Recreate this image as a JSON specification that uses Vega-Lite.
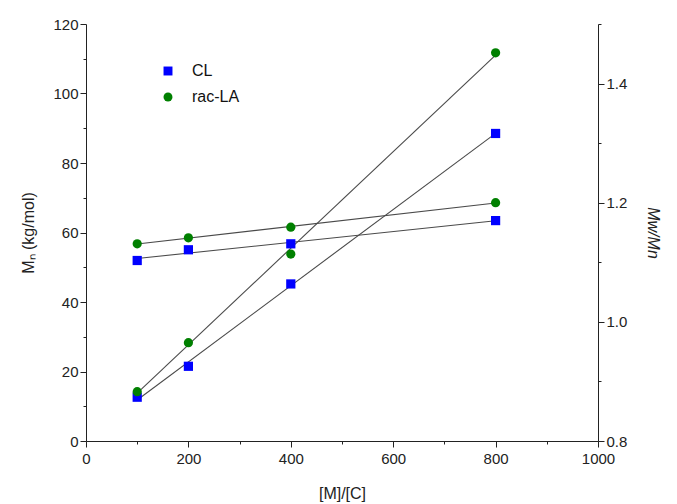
{
  "$schema": "https://vega.github.io/schema/vega-lite/v6.json",
  "autosize": "none",
  "width": 512,
  "height": 417,
  "padding": {"left": 86, "top": 24, "right": 79, "bottom": 63},
  "background": "white",
  "config": {
    "view": {"stroke": null},
    "font": "Liberation Sans",
    "axis": {
      "grid": false,
      "domainColor": "#222",
      "tickColor": "#222",
      "labelColor": "#222",
      "titleColor": "#222",
      "labelFont": "Liberation Sans",
      "titleFont": "Liberation Sans",
      "labelFontSize": 15,
      "titleFontSize": 16,
      "titleFontWeight": "normal"
    }
  },
  "data": {
    "values": [
      {"x": 100, "series": "CL", "Mn": 12.6, "PDI": 1.103},
      {"x": 200, "series": "CL", "Mn": 21.5, "PDI": 1.121},
      {"x": 400, "series": "CL", "Mn": 45.2, "PDI": 1.131},
      {"x": 800, "series": "CL", "Mn": 88.5, "PDI": 1.170},
      {"x": 100, "series": "rac-LA", "Mn": 14.2, "PDI": 1.131},
      {"x": 200, "series": "rac-LA", "Mn": 28.3, "PDI": 1.141},
      {"x": 400, "series": "rac-LA", "Mn": 53.8, "PDI": 1.159},
      {"x": 800, "series": "rac-LA", "Mn": 111.7, "PDI": 1.200}
    ]
  },
  "encoding": {
    "x": {
      "field": "x",
      "type": "quantitative",
      "scale": {"domain": [0, 1000], "nice": false},
      "axis": {
        "title": "[M]/[C]",
        "values": [0, 100, 200, 300, 400, 500, 600, 700, 800, 900, 1000],
        "labelExpr": "datum.value % 200 === 0 ? datum.label : ''",
        "format": "d",
        "tickSize": {"condition": {"test": "datum.value % 200 === 0", "value": 6}, "value": 3},
        "labelPadding": 4,
        "titlePadding": 19,
        "labelFlush": false
      }
    }
  },
  "layer": [
    {
      "encoding": {
        "y": {
          "field": "Mn",
          "type": "quantitative",
          "scale": {"domain": [0, 120], "nice": false},
          "axis": {
            "orient": "left",
            "title": "Mₙ (kg/mol)",
            "values": [0, 10, 20, 30, 40, 50, 60, 70, 80, 90, 100, 110, 120],
            "labelExpr": "datum.value % 20 === 0 ? datum.label : ''",
            "tickSize": {"condition": {"test": "datum.value % 20 === 0", "value": 6}, "value": 3},
            "titlePadding": 16
          }
        }
      },
      "layer": [
        {
          "transform": [{"regression": "Mn", "on": "x", "groupby": ["series"]}],
          "mark": {"type": "line", "color": "#4a4a4a", "strokeWidth": 1.1},
          "encoding": {"detail": {"field": "series"}}
        },
        {
          "mark": {"type": "point", "filled": true, "opacity": 1, "size": 85},
          "encoding": {
            "color": {"field": "series", "type": "nominal", "scale": {"domain": ["CL", "rac-LA"], "range": ["#0000ff", "#008000"]},
              "legend": {"title": null, "orient": "none", "legendX": 74, "legendY": 39, "labelFontSize": 16, "labelColor": "#111", "symbolSize": 80, "rowPadding": 10, "labelOffset": 16}},
            "shape": {"field": "series", "type": "nominal", "scale": {"domain": ["CL", "rac-LA"], "range": ["square", "circle"]}}
          }
        }
      ]
    },
    {
      "encoding": {
        "y": {
          "field": "PDI",
          "type": "quantitative",
          "scale": {"domain": [0.8, 1.5], "nice": false, "zero": false},
          "axis": {
            "orient": "right",
            "title": "Mw/Mn",
            "titleFontStyle": "italic",
            "titleAngle": 90,
            "values": [0.8, 0.9, 1.0, 1.1, 1.2, 1.3, 1.4, 1.5],
            "format": ".1f",
            "labelExpr": "round(datum.value * 10) % 2 === 0 && datum.value < 1.45 ? datum.label : ''",
            "tickSize": {"condition": {"test": "round(datum.value * 10) % 2 === 0 && datum.value < 1.45", "value": 6}, "value": 3},
            "titlePadding": 18
          }
        }
      },
      "layer": [
        {
          "transform": [{"regression": "PDI", "on": "x", "groupby": ["series"]}],
          "mark": {"type": "line", "color": "#4a4a4a", "strokeWidth": 1.1},
          "encoding": {"detail": {"field": "series"}}
        },
        {
          "mark": {"type": "point", "filled": true, "opacity": 1, "size": 85},
          "encoding": {
            "color": {"field": "series", "type": "nominal", "scale": {"domain": ["CL", "rac-LA"], "range": ["#0000ff", "#008000"]}},
            "shape": {"field": "series", "type": "nominal", "scale": {"domain": ["CL", "rac-LA"], "range": ["square", "circle"]}}
          }
        }
      ]
    }
  ],
  "resolve": {"scale": {"y": "independent"}}
}
